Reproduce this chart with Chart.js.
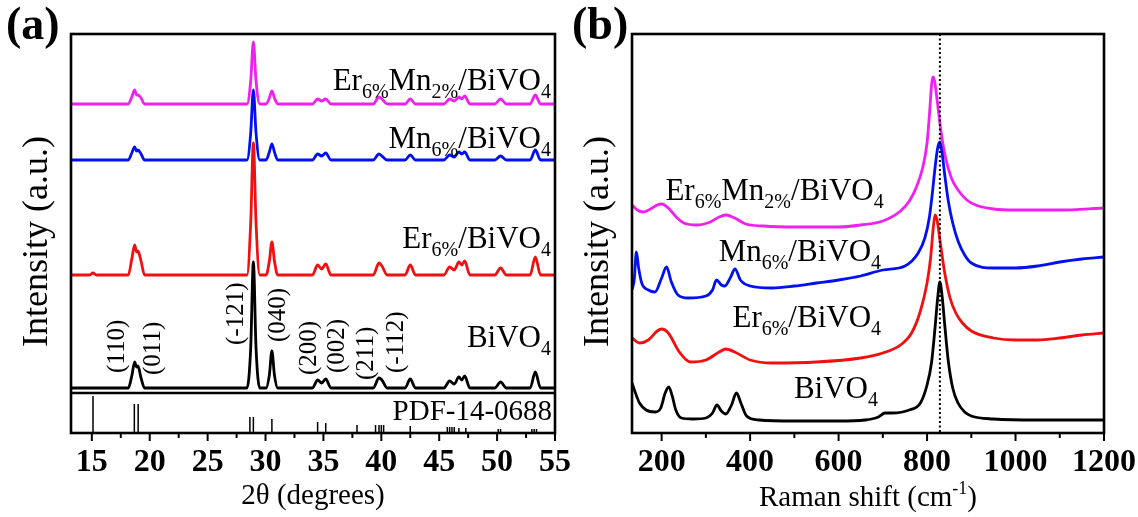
<!DOCTYPE html>
<html>
<head>
<meta charset="utf-8">
<script src="https://cdn.jsdelivr.net/npm/chart.js@4.4.0/dist/chart.umd.min.js"></script>
<style>
  body { margin: 0; background: #fff; }
  #wrap { position: relative; width: 1138px; height: 517px; overflow: hidden; }
  canvas { position: absolute; top: 0; }
  #xrd { left: 0; }
  #raman { left: 560px; }
</style>
</head>
<body>
<div id="wrap">
  <canvas id="xrd" width="600" height="517"></canvas>
  <canvas id="raman" width="620" height="517"></canvas>
</div>
<script>
// ---- (a) XRD patterns, shared 2-theta grid, intensities in plot units ----
const twoTheta = [13.2, 14.8, 15.1, 15.4, 18.15, 18.45, 18.7, 18.86, 18.98, 19.25, 19.55, 28.4, 28.72, 28.95, 29.18, 29.5,
                  30.05, 30.33, 30.55, 30.77, 31.05, 34.05, 34.5, 34.85, 35.2, 35.65, 39.3, 39.8, 40.05, 40.5, 42.05, 42.5,
                  42.95, 45.4, 45.9, 46.3, 46.7, 46.95, 47.2, 47.65, 49.8, 50.3, 50.8, 52.85, 53.3, 53.75, 55];
const xrdBiVO4 = [45, 45, 45, 45, 45, 57, 71, 66, 67, 55, 45, 45, 85, 171, 85, 45, 45, 58, 82, 58, 45, 45, 53, 50, 54,
                  45, 45, 55, 53, 45, 45, 54, 45, 45, 52, 49, 56, 53, 57, 45, 45, 51, 45, 45, 61, 45, 45];
const xrdEr = [158, 158, 160, 158, 158, 174, 188, 181, 182, 172, 158, 158, 210, 290, 210, 158, 158, 172, 191, 172, 158,
               158, 168, 164, 169, 158, 158, 170, 167, 158, 158, 168, 158, 158, 166, 163, 171, 168, 172, 158, 158, 165,
               158, 158, 176, 158, 158];
const xrdMn = [273, 273, 273, 273, 273, 280, 286, 282, 283, 279, 273, 273, 300, 343, 300, 273, 273, 281, 289, 281, 273,
               273, 279, 277, 280, 273, 273, 279, 277, 273, 273, 278, 273, 273, 278, 276, 281, 279, 281, 273, 273, 277,
               273, 273, 283, 273, 273];
const xrdErMn = [329, 329, 329, 329, 329, 336, 343, 338, 338, 335, 329, 329, 352, 391, 352, 329, 329, 335, 342, 335, 329,
                 329, 334, 332, 334, 329, 329, 336, 334, 329, 329, 334, 329, 329, 334, 332, 336, 334, 337, 329, 329, 334,
                 329, 329, 338, 329, 329];

// PDF-14-0688 reference sticks
const pdfTheta = [15.1, 18.67, 19.0, 28.65, 28.95, 30.55, 34.5, 35.2, 37.9, 39.5, 39.8, 40.0, 40.2, 42.5,
                  45.7, 45.9, 46.1, 46.3, 46.7, 47.3, 50.1, 50.3, 53.0, 53.2, 53.4];
const pdfHeight = [37, 29, 29, 16, 16, 14, 11, 10, 8, 8, 8, 8, 8, 7, 6, 6, 6, 6, 5, 5, 4, 4, 4, 4, 4];

const hklLabels = ['(110)', '(011)', '(-121)', '(040)', '(200)', '(002)', '(211)', '(-112)'];
const hklTheta = [17.25, 20.3, 27.5, 31.1, 33.8, 36.2, 38.7, 41.3];
const hklBase = [60, 58, 88, 91, 58, 60, 53, 60];

const xrdTicks = [15, 20, 25, 30, 35, 40, 45, 50, 55];
const xrdMinor = [17.5, 22.5, 27.5, 32.5, 37.5, 42.5, 47.5, 52.5];

// ---- (b) Raman spectra ----
const shiftBiVO4 = [133, 140, 150, 165, 185, 198, 208, 216, 224, 232, 245, 270, 300, 315, 325, 335, 345, 358, 369, 380,
                    392, 420, 500, 600, 660, 690, 705, 720, 760, 785, 800, 810, 818, 824, 829, 834, 840, 848, 858, 870,
                    885, 900, 950, 1050, 1200];
const ramanBiVO4 = [50, 41, 30, 23, 21, 25, 40, 46, 37, 23, 15, 14, 15, 20, 28, 22, 19, 28, 40, 29, 17, 13, 12, 12, 13,
                    16, 20, 20, 23, 30, 48, 70, 105, 135, 151, 137, 108, 72, 45, 30, 21, 17, 14, 13, 13];
const shiftEr = [133, 150, 170, 190, 200, 215, 240, 265, 300, 330, 345, 365, 400, 450, 550, 650, 700, 740, 765, 785, 800,
                 808, 814, 818, 823, 830, 840, 852, 865, 880, 900, 950, 1000, 1050, 1100, 1150, 1200];
const ramanEr = [95, 90, 93, 102, 104, 100, 81, 71, 73, 81, 84, 81, 73, 70, 71, 75, 80, 88, 100, 122, 150, 175, 205, 218,
                 212, 190, 160, 135, 120, 110, 102, 95, 93, 93, 95, 98, 100];
const shiftMn = [133, 138, 143, 148, 155, 170, 185, 200, 211, 222, 237, 260, 300, 315, 324, 335, 343, 355, 366, 378, 400,
                 450, 500, 550, 600, 650, 700, 750, 780, 795, 805, 812, 818, 824, 829, 834, 840, 848, 858, 870, 885, 900,
                 950, 1000, 1050, 1100, 1150, 1200];
const ramanMn = [143, 153, 181, 165, 150, 143, 141, 155, 166, 151, 138, 135, 137, 143, 153, 148, 147, 155, 164, 153, 147,
                 145, 147, 150, 153, 157, 163, 167, 180, 195, 215, 240, 265, 285, 291, 280, 258, 232, 210, 192, 178, 170,
                 165, 165, 167, 171, 174, 176];
const shiftErMn = [133, 145, 158, 175, 190, 200, 215, 235, 250, 280, 310, 330, 345, 365, 390, 430, 500, 600, 650, 700, 740,
                   760, 775, 790, 800, 806, 810, 813, 817, 823, 832, 842, 855, 870, 890, 910, 950, 1000, 1100, 1200];
const ramanErMn = [228, 223, 221, 224, 228, 229, 225, 215, 210, 208, 211, 216, 218, 215, 209, 207, 206, 206, 208, 212, 222,
                   232, 245, 265, 290, 322, 347, 356, 352, 332, 300, 275, 255, 243, 233, 228, 224, 223, 223, 225];
const markerShift = 829;

const ramanTicks = [200, 400, 600, 800, 1000, 1200];
const ramanMinor = [300, 500, 700, 900, 1100];

// sample names as [text, isSubscript]
const nameErMn = [['Er', 0], ['6%', 1], ['Mn', 0], ['2%', 1], ['/BiVO', 0], ['4', 1]];
const nameMn = [['Mn', 0], ['6%', 1], ['/BiVO', 0], ['4', 1]];
const nameEr = [['Er', 0], ['6%', 1], ['/BiVO', 0], ['4', 1]];
const nameBiVO4 = [['BiVO', 0], ['4', 1]];

const FONT = "'Liberation Serif', 'DejaVu Serif', serif";
Chart.defaults.font.family = FONT;
Chart.defaults.color = '#000';
Chart.defaults.animation = false;

const MAGENTA = '#f020f0', BLUE = '#0010f0', RED = '#f01010', BLACK = '#000';

function pts(xs, ys) { return xs.map((x, i) => ({x: x, y: ys[i]})); }
function stickPts(xs, hs) {
    const out = [];
    xs.forEach((x, i) => { out.push({x: x, y: 0}, {x: x, y: hs[i]}, {x: x, y: null}); });
    return out;
}
function spectrum(label, data, color) {
    return {label: label, data: data, borderColor: color, borderWidth: 2.8, pointRadius: 0,
            cubicInterpolationMode: 'monotone', fill: false};
}

function richText(ctx, parts, x, y, align) {
    const big = '31px ' + FONT, small = '20px ' + FONT;
    let w = 0;
    parts.forEach(p => { ctx.font = p[1] ? small : big; w += ctx.measureText(p[0]).width; });
    let cx = align === 'right' ? x - w : x;
    ctx.textAlign = 'left';
    ctx.textBaseline = 'alphabetic';
    parts.forEach(p => {
        ctx.font = p[1] ? small : big;
        ctx.fillText(p[0], cx, p[1] ? y + 8 : y);
        cx += ctx.measureText(p[0]).width;
    });
}

function frameAndTicks(chart, minor) {
    const {ctx, chartArea: a, scales: {x}} = chart;
    ctx.save();
    ctx.strokeStyle = '#000';
    ctx.lineWidth = 2;
    x.ticks.forEach(t => {
        const px = x.getPixelForValue(t.value);
        ctx.beginPath(); ctx.moveTo(px, a.bottom); ctx.lineTo(px, a.bottom + 8); ctx.stroke();
    });
    minor.forEach(v => {
        const px = x.getPixelForValue(v);
        ctx.beginPath(); ctx.moveTo(px, a.bottom); ctx.lineTo(px, a.bottom + 5); ctx.stroke();
    });
    ctx.lineWidth = 2.6;
    ctx.strokeRect(a.left, a.top, a.right - a.left, a.bottom - a.top);
    ctx.restore();
}

function yTitle(ctx, a) {
    ctx.save();
    ctx.font = '36px ' + FONT;
    ctx.fillStyle = '#000';
    ctx.textAlign = 'center';
    ctx.textBaseline = 'middle';
    ctx.translate(a.left - 33, (a.top + a.bottom) / 2 + 8);
    ctx.rotate(-Math.PI / 2);
    ctx.fillText('Intensity (a.u.)', 0, 0);
    ctx.restore();
}

function panelLetter(ctx, t, x) {
    ctx.save();
    ctx.font = 'bold 46px ' + FONT;
    ctx.fillStyle = '#000';
    ctx.textAlign = 'left';
    ctx.textBaseline = 'middle';
    ctx.fillText(t, x, 27);
    ctx.restore();
}

const xrdDecor = {
    id: 'xrdDecor',
    afterDatasetsDraw(chart) {
        const {ctx, scales: {x, y}} = chart;
        ctx.save();
        ctx.fillStyle = '#000';
        ctx.font = '25px ' + FONT;
        ctx.textAlign = 'left';
        ctx.textBaseline = 'middle';
        hklLabels.forEach((t, i) => {
            ctx.save();
            ctx.translate(x.getPixelForValue(hklTheta[i]), y.getPixelForValue(hklBase[i]));
            ctx.rotate(-Math.PI / 2);
            ctx.fillText(t, 0, 0);
            ctx.restore();
        });
        const xr = x.getPixelForValue(54.65);
        richText(ctx, nameErMn, xr, y.getPixelForValue(343), 'right');
        richText(ctx, nameMn, xr, y.getPixelForValue(285), 'right');
        richText(ctx, nameEr, xr, y.getPixelForValue(185), 'right');
        richText(ctx, nameBiVO4, xr, y.getPixelForValue(86), 'right');
        ctx.font = '29px ' + FONT;
        ctx.textAlign = 'right';
        ctx.textBaseline = 'alphabetic';
        ctx.fillText('PDF-14-0688', x.getPixelForValue(54.75), y.getPixelForValue(13));
        ctx.restore();
    },
    afterDraw(chart) {
        frameAndTicks(chart, xrdMinor);
        yTitle(chart.ctx, chart.chartArea);
        panelLetter(chart.ctx, '(a)', 6);
    }
};

const ramanDecor = {
    id: 'ramanDecor',
    afterDatasetsDraw(chart) {
        const {ctx, chartArea: a, scales: {x, y}} = chart;
        ctx.save();
        // dotted marker line
        ctx.strokeStyle = '#000';
        ctx.lineWidth = 2;
        ctx.setLineDash([2, 2.5]);
        const mx = x.getPixelForValue(markerShift);
        ctx.beginPath(); ctx.moveTo(mx, a.top); ctx.lineTo(mx, a.bottom); ctx.stroke();
        ctx.setLineDash([]);
        ctx.fillStyle = '#000';
        richText(ctx, nameErMn, x.getPixelForValue(702), y.getPixelForValue(233), 'right');
        richText(ctx, nameMn, x.getPixelForValue(696), y.getPixelForValue(172), 'right');
        richText(ctx, nameEr, x.getPixelForValue(696), y.getPixelForValue(106), 'right');
        richText(ctx, nameBiVO4, x.getPixelForValue(689), y.getPixelForValue(35), 'right');
        ctx.restore();
    },
    afterDraw(chart) {
        const {ctx, chartArea: a} = chart;
        frameAndTicks(chart, ramanMinor);
        yTitle(ctx, a);
        panelLetter(ctx, '(b)', 12);
        // x title with superscript
        ctx.save();
        ctx.fillStyle = '#000';
        ctx.textBaseline = 'alphabetic';
        const big = '29px ' + FONT, small = '18px ' + FONT;
        const parts = [['Raman shift (cm', big, 0], ['-1', small, -12], [')', big, 0]];
        let w = 0;
        parts.forEach(p => { ctx.font = p[1]; w += ctx.measureText(p[0]).width; });
        let cx = (a.left + a.right) / 2 - w / 2;
        ctx.textAlign = 'left';
        parts.forEach(p => { ctx.font = p[1]; ctx.fillText(p[0], cx, 506 + p[2]); cx += ctx.measureText(p[0]).width; });
        ctx.restore();
    }
};

function xScale(min, max, ticks, title) {
    return {
        type: 'linear', position: 'bottom', min: min, max: max,
        grid: {display: false, drawTicks: false, tickLength: 0},
        border: {display: false},
        ticks: {font: {size: 32, weight: 'bold'}, padding: 11, maxRotation: 0, autoSkip: false, color: '#000',
                callback: v => String(v)},
        afterBuildTicks: s => { s.ticks = ticks.map(v => ({value: v})); },
        afterFit: s => { s.height = 84; },
        title: title
    };
}

new Chart(document.getElementById('xrd'), {
    type: 'line',
    data: {
        datasets: [
            spectrum('BiVO4', pts(twoTheta, xrdBiVO4), BLACK),
            spectrum('Er6%/BiVO4', pts(twoTheta, xrdEr), RED),
            spectrum('Mn6%/BiVO4', pts(twoTheta, xrdMn), BLUE),
            spectrum('Er6%Mn2%/BiVO4', pts(twoTheta, xrdErMn), MAGENTA),
            {label: 'PDF-14-0688', data: stickPts(pdfTheta, pdfHeight), borderColor: '#000', borderWidth: 1.5,
             pointRadius: 0, spanGaps: false},
            {label: 'sep', data: [{x: 13.2, y: 40}, {x: 55, y: 40}], borderColor: '#000', borderWidth: 2.4, pointRadius: 0}
        ]
    },
    options: {
        responsive: false,
        layout: {padding: {left: 71, right: 45, top: 34, bottom: 0}},
        plugins: {legend: {display: false}, tooltip: {enabled: false}},
        scales: {
            x: xScale(13.2, 55, xrdTicks, {display: true, text: '2θ (degrees)', font: {size: 29}, padding: {top: 0, bottom: 3}}),
            y: {display: false, min: 0, max: 399}
        }
    },
    plugins: [xrdDecor]
});

new Chart(document.getElementById('raman'), {
    type: 'line',
    data: {
        datasets: [
            spectrum('BiVO4', pts(shiftBiVO4, ramanBiVO4), BLACK),
            spectrum('Er6%/BiVO4', pts(shiftEr, ramanEr), RED),
            spectrum('Mn6%/BiVO4', pts(shiftMn, ramanMn), BLUE),
            spectrum('Er6%Mn2%/BiVO4', pts(shiftErMn, ramanErMn), MAGENTA)
        ]
    },
    options: {
        responsive: false,
        layout: {padding: {left: 72, right: 76, top: 34, bottom: 0}},
        plugins: {legend: {display: false}, tooltip: {enabled: false}},
        scales: {
            x: xScale(133, 1200, ramanTicks, {display: false}),
            y: {display: false, min: 0, max: 399}
        }
    },
    plugins: [ramanDecor]
});
</script>
</body>
</html>
